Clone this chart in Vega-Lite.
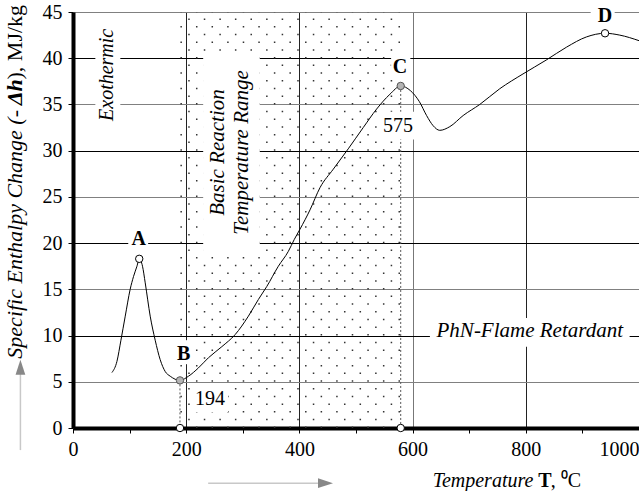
{
  "$schema": "https://vega.github.io/schema/vega-lite/v6.json",
  "width": 566,
  "height": 416,
  "autosize": {"type": "none"},
  "padding": {"left": 73, "top": 12, "right": 0, "bottom": 63},
  "background": "white",
  "config": {
    "view": {"stroke": null},
    "text": {"font": "Liberation Serif", "fontSize": 20, "color": "black"}
  },
  "datasets": {
    "curve": [
      {"x": 68.8, "y": 6.0}, {"x": 77.6, "y": 7.2}, {"x": 84.7, "y": 9.5}, {"x": 92.3, "y": 12.1},
      {"x": 101, "y": 15.0}, {"x": 107, "y": 16.4}, {"x": 113, "y": 17.5}, {"x": 117, "y": 18.3},
      {"x": 122.8, "y": 17.5}, {"x": 127.6, "y": 15.7}, {"x": 136.4, "y": 12.1}, {"x": 145.2, "y": 9.5},
      {"x": 154, "y": 7.4}, {"x": 163, "y": 6.1}, {"x": 171.8, "y": 5.6}, {"x": 189, "y": 5.15},
      {"x": 204, "y": 5.6}, {"x": 221.6, "y": 6.5}, {"x": 239.3, "y": 7.6}, {"x": 263, "y": 8.8},
      {"x": 286.4, "y": 10.1}, {"x": 309.9, "y": 12.1}, {"x": 327.5, "y": 13.9}, {"x": 342.3, "y": 15.3},
      {"x": 362.8, "y": 17.5}, {"x": 380.4, "y": 19.1}, {"x": 391, "y": 20.4}, {"x": 401, "y": 21.5},
      {"x": 418.8, "y": 23.6}, {"x": 436.4, "y": 26.0}, {"x": 459.9, "y": 28.0}, {"x": 486.3, "y": 30.2},
      {"x": 512.8, "y": 32.5}, {"x": 536.4, "y": 34.5}, {"x": 559.9, "y": 36.1}, {"x": 579, "y": 37.0},
      {"x": 596, "y": 36.5}, {"x": 612, "y": 35.3}, {"x": 624.7, "y": 33.8}, {"x": 636.3, "y": 32.7},
      {"x": 648, "y": 32.2}, {"x": 665.8, "y": 32.6}, {"x": 689.3, "y": 33.8}, {"x": 718.7, "y": 35.0},
      {"x": 754, "y": 36.7}, {"x": 795, "y": 38.3}, {"x": 836, "y": 39.8}, {"x": 872, "y": 41.2},
      {"x": 907, "y": 42.3}, {"x": 940, "y": 42.7}, {"x": 966, "y": 42.5}, {"x": 1000, "y": 41.9}
    ],
    "dotsA": [
      {"x": 191.1, "y": 0, "y2": 45}, {"x": 218.6, "y": 0, "y2": 45}, {"x": 246.1, "y": 0, "y2": 45},
      {"x": 273.7, "y": 0, "y2": 45}, {"x": 301.2, "y": 0, "y2": 45}, {"x": 328.7, "y": 0, "y2": 45},
      {"x": 356.2, "y": 0, "y2": 45}, {"x": 383.7, "y": 0, "y2": 45}, {"x": 411.3, "y": 0, "y2": 45},
      {"x": 438.8, "y": 0, "y2": 45}, {"x": 466.3, "y": 0, "y2": 45}, {"x": 493.8, "y": 0, "y2": 45},
      {"x": 521.3, "y": 0, "y2": 45}, {"x": 548.9, "y": 0, "y2": 45}, {"x": 576.4, "y": 0, "y2": 45}
    ],
    "dotsB": [
      {"x": 204.9, "y": 0, "y2": 45}, {"x": 232.4, "y": 0, "y2": 45}, {"x": 259.9, "y": 0, "y2": 45},
      {"x": 287.4, "y": 0, "y2": 45}, {"x": 314.9, "y": 0, "y2": 45}, {"x": 342.5, "y": 0, "y2": 45},
      {"x": 370.0, "y": 0, "y2": 45}, {"x": 397.5, "y": 0, "y2": 45}, {"x": 425.0, "y": 0, "y2": 45},
      {"x": 452.5, "y": 0, "y2": 45}, {"x": 480.1, "y": 0, "y2": 45}, {"x": 507.6, "y": 0, "y2": 45},
      {"x": 535.1, "y": 0, "y2": 45}, {"x": 562.6, "y": 0, "y2": 45}
    ],
    "drops": [{"x": 189, "y": 5.15, "y2": 0}, {"x": 579, "y": 37.0, "y2": 0}],
    "boxes": [
      {"x": 39.5, "x2": 83.6, "y": 32.8, "y2": 44.3},
      {"x": 230, "x2": 330, "y": 18.8, "y2": 40.5},
      {"x": 630.6, "x2": 983.4, "y": 8.8, "y2": 11.9},
      {"x": 97.6, "x2": 132.8, "y": 19.3, "y2": 21.4},
      {"x": 175, "x2": 212, "y": 6.9, "y2": 9.5},
      {"x": 562, "x2": 596, "y": 37.85, "y2": 40.45},
      {"x": 914.6, "x2": 957, "y": 43.5, "y2": 46},
      {"x": 207, "x2": 274, "y": 1.7, "y2": 4.6},
      {"x": 542, "x2": 604, "y": 31.2, "y2": 34.2}
    ],
    "openPoints": [{"x": 117, "y": 18.3}, {"x": 940, "y": 42.7}, {"x": 189, "y": 0}, {"x": 579, "y": 0}],
    "greyPoints": [{"x": 189, "y": 5.15}, {"x": 579, "y": 37.0}],
    "letters": [
      {"t": "A", "x": 116, "y": 20.4}, {"t": "B", "x": 195.5, "y": 8.0},
      {"t": "C", "x": 577.6, "y": 39.0}, {"t": "D", "x": 940, "y": 44.6}
    ],
    "numbers": [{"t": "194", "x": 242, "y": 3.1}, {"t": "575", "x": 574, "y": 32.7}],
    "flat": [{"t": "PhN-Flame Retardant", "x": 807, "y": 10.5}],
    "upright": [
      {"t": "Basic Reaction", "x": 255.5, "y": 29.8},
      {"t": "Temperature Range", "x": 298, "y": 29.8}
    ],
    "exo": [{"t": "Exothermic", "x": 60.5, "y": 38.2}],
    "xArrow": [{"x": 238.8, "x2": 432.8, "y": -5.97}],
    "yArrow": [{"x": -92.9, "y": -2.39, "y2": 5.97}],
    "xHead": [{"x": 446.1, "y": -5.97}],
    "yHead": [{"x": -92.9, "y": 6.56}],
    "xt1": [{"t": "Temperature", "x": 813.4, "y": -6.4}],
    "xt2": [{"t": "T", "x": 822, "y": -6.4}],
    "xt3": [{"t": ", ⁰C", "x": 844, "y": -6.4}],
    "yt1": [{"t": "Specific Enthalpy Change (-", "x": -89.4, "y": 34.4}],
    "yt2": [{"t": "Δh", "x": -89.4, "y": 34.9}],
    "yt3": [{"t": "), MJ/kg", "x": -89.4, "y": 37.7}]
  },
  "encoding": {
    "x": {
      "field": "x", "type": "quantitative",
      "scale": {"domain": [0, 1000], "nice": false, "zero": false},
      "axis": {
        "title": null,
        "format": "d",
        "values": [0, 100, 200, 300, 400, 500, 600, 700, 800, 900, 1000],
        "labelExpr": "datum.value % 200 == 0 ? datum.label : ''",
        "grid": true,
        "gridColor": {"condition": {"test": "datum.value == 600", "value": "#777777"}, "value": "#222222"},
        "gridOpacity": {"condition": {"test": "datum.value % 200 != 0 || datum.value == 0 || datum.value == 1000", "value": 0}, "value": 1},
        "gridWidth": 1,
        "domainColor": "black", "domainWidth": 4,
        "tickColor": "black", "tickSize": 5, "tickWidth": 1,
        "labelFont": "Liberation Serif", "labelFontSize": 20, "labelColor": "black", "labelPadding": 6,
        "labelAlign": {"condition": {"test": "datum.value == 1000", "value": "right"}, "value": "center"}
      }
    },
    "y": {
      "field": "y", "type": "quantitative",
      "scale": {"domain": [0, 45], "nice": false},
      "axis": {
        "title": null,
        "values": [0, 5, 10, 15, 20, 25, 30, 35, 40, 45],
        "grid": true,
        "gridColor": {"condition": {"test": "datum.value % 10 == 5", "value": "#808080"}, "value": "#000000"},
        "gridOpacity": {"condition": {"test": "datum.value == 0", "value": 0}, "value": 1},
        "gridWidth": 1,
        "domainColor": "black", "domainWidth": 4,
        "tickColor": "black", "tickSize": 5, "tickWidth": 1,
        "labelFont": "Liberation Serif", "labelFontSize": 20, "labelColor": "black", "labelPadding": 6
      }
    }
  },
  "layer": [
    {
      "data": {"name": "dotsA"},
      "mark": {"type": "rule", "color": "#333333", "strokeWidth": 1.5, "strokeDash": [1.5, 13.9]},
      "encoding": {"y2": {"field": "y2"}}
    },
    {
      "data": {"name": "dotsB"},
      "mark": {"type": "rule", "color": "#333333", "strokeWidth": 1.5, "strokeDash": [1.5, 13.9], "strokeDashOffset": 7.7},
      "encoding": {"y2": {"field": "y2"}}
    },
    {
      "data": {"name": "drops"},
      "mark": {"type": "rule", "color": "#555555", "strokeWidth": 1, "strokeDash": [2, 2]},
      "encoding": {"y2": {"field": "y2"}}
    },
    {
      "data": {"name": "boxes"},
      "mark": {"type": "rect", "fill": "white", "strokeWidth": 0},
      "encoding": {"x2": {"field": "x2"}, "y2": {"field": "y2"}}
    },
    {
      "data": {"name": "curve"},
      "mark": {"type": "line", "color": "black", "strokeWidth": 1, "interpolate": "monotone"}
    },
    {
      "data": {"name": "openPoints"},
      "mark": {"type": "point", "shape": "circle", "filled": true, "fill": "white", "stroke": "black", "strokeWidth": 1, "size": 55, "opacity": 1}
    },
    {
      "data": {"name": "greyPoints"},
      "mark": {"type": "point", "shape": "circle", "filled": true, "fill": "#b4b4b4", "stroke": "#555555", "strokeWidth": 1, "size": 55, "opacity": 1}
    },
    {
      "data": {"name": "letters"},
      "mark": {"type": "text", "font": "Liberation Serif", "fontSize": 20, "fontWeight": "bold", "align": "center", "baseline": "middle"},
      "encoding": {"text": {"field": "t"}}
    },
    {
      "data": {"name": "numbers"},
      "mark": {"type": "text", "font": "Liberation Serif", "fontSize": 20, "align": "center", "baseline": "middle"},
      "encoding": {"text": {"field": "t"}}
    },
    {
      "data": {"name": "flat"},
      "mark": {"type": "text", "font": "Liberation Serif", "fontStyle": "italic", "fontSize": 21, "align": "center", "baseline": "middle"},
      "encoding": {"text": {"field": "t"}}
    },
    {
      "data": {"name": "upright"},
      "mark": {"type": "text", "font": "Liberation Serif", "fontStyle": "italic", "fontSize": 21, "align": "center", "baseline": "middle", "angle": 270},
      "encoding": {"text": {"field": "t"}}
    },
    {
      "data": {"name": "exo"},
      "mark": {"type": "text", "font": "Liberation Serif", "fontStyle": "italic", "fontSize": 20, "align": "center", "baseline": "middle", "angle": 270},
      "encoding": {"text": {"field": "t"}}
    },
    {
      "data": {"name": "xArrow"},
      "mark": {"type": "rule", "color": "#c8c8c8", "strokeWidth": 1.5},
      "encoding": {"x2": {"field": "x2"}}
    },
    {
      "data": {"name": "yArrow"},
      "mark": {"type": "rule", "color": "#c8c8c8", "strokeWidth": 1.5},
      "encoding": {"y2": {"field": "y2"}}
    },
    {
      "data": {"name": "xHead"},
      "mark": {"type": "point", "shape": "M-1,-0.65L1,0L-1,0.65Z", "filled": true, "color": "#888888", "size": 225, "opacity": 1}
    },
    {
      "data": {"name": "yHead"},
      "mark": {"type": "point", "shape": "M-0.65,1L0,-1L0.65,1Z", "filled": true, "color": "#888888", "size": 225, "opacity": 1}
    },
    {
      "data": {"name": "xt1"},
      "mark": {"type": "text", "font": "Liberation Serif", "fontSize": 20, "fontStyle": "italic", "align": "right", "baseline": "alphabetic"},
      "encoding": {"text": {"field": "t"}}
    },
    {
      "data": {"name": "xt2"},
      "mark": {"type": "text", "font": "Liberation Serif", "fontSize": 20, "fontWeight": "bold", "align": "left", "baseline": "alphabetic"},
      "encoding": {"text": {"field": "t"}}
    },
    {
      "data": {"name": "xt3"},
      "mark": {"type": "text", "font": "Liberation Serif", "fontSize": 20, "align": "left", "baseline": "alphabetic"},
      "encoding": {"text": {"field": "t"}}
    },
    {
      "data": {"name": "yt1"},
      "mark": {"type": "text", "font": "Liberation Serif", "fontStyle": "italic", "fontSize": 22, "align": "right", "baseline": "alphabetic", "angle": 270},
      "encoding": {"text": {"field": "t"}}
    },
    {
      "data": {"name": "yt2"},
      "mark": {"type": "text", "font": "Liberation Serif", "fontStyle": "italic", "fontWeight": "bold", "fontSize": 22, "align": "left", "baseline": "alphabetic", "angle": 270},
      "encoding": {"text": {"field": "t"}}
    },
    {
      "data": {"name": "yt3"},
      "mark": {"type": "text", "font": "Liberation Serif", "fontSize": 22, "align": "left", "baseline": "alphabetic", "angle": 270},
      "encoding": {"text": {"field": "t"}}
    }
  ]
}
